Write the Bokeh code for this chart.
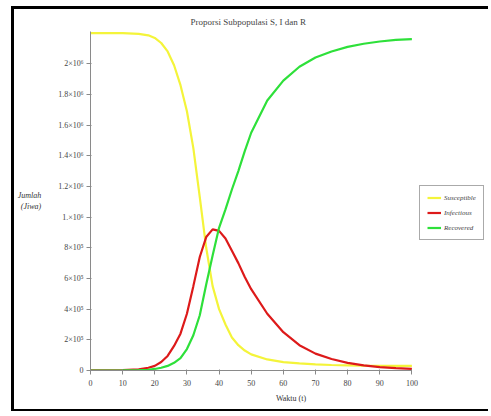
from bokeh.plotting import figure
from bokeh.models import FixedTicker, Legend, LegendItem, ColumnDataSource
from bokeh.embed import file_html
from bokeh.resources import INLINE

t = [0, 5, 10, 15, 18, 20, 22, 24, 26, 28, 30, 32, 34, 36, 38, 40, 42, 44, 46, 48, 50,
     55, 60, 65, 70, 75, 80, 85, 90, 95, 100]
susceptible = [2200000, 2200000, 2199000, 2195000, 2185000, 2168000, 2135000, 2080000, 1990000,
               1860000, 1690000, 1450000, 1130000, 800000, 550000, 400000, 300000, 215000, 165000,
               130000, 105000, 72000, 55000, 46000, 40000, 36000, 34000, 32000, 31000, 30000, 30000]
infectious = [300, 800, 2000, 8000, 18000, 30000, 55000, 95000, 160000, 240000, 370000, 550000,
              740000, 870000, 920000, 910000, 860000, 780000, 700000, 610000, 530000, 370000,
              250000, 165000, 110000, 75000, 50000, 33000, 22000, 15000, 10000]
recovered = [0, 100, 500, 2000, 5000, 10000, 18000, 30000, 50000, 80000, 140000, 230000, 360000,
             560000, 750000, 930000, 1050000, 1180000, 1300000, 1430000, 1550000, 1760000,
             1890000, 1980000, 2040000, 2080000, 2110000, 2130000, 2145000, 2155000, 2160000]

x_ticks = [0, 10, 20, 30, 40, 50, 60, 70, 80, 90, 100]
y_ticks = [0, 200000, 400000, 600000, 800000, 1000000, 1200000, 1400000, 1600000, 1800000, 2000000]
y_tick_labels = ["0", "2×10⁵", "4×10⁵", "6×10⁵", "8×10⁵", "1.×10⁶", "1.2×10⁶", "1.4×10⁶",
                 "1.6×10⁶", "1.8×10⁶", "2×10⁶"]

series_names = ["Susceptible", "Infectious", "Recovered"]
colors = ["#f4f43a", "#dd1a1a", "#2ee03a"]

src = ColumnDataSource(dict(t=t, s=susceptible, i=infectious, r=recovered))

p = figure(width=477, height=405, output_backend="svg", toolbar_location=None,
           x_range=(0, 124.77), y_range=(0, 2210000),
           min_border_left=74, min_border_right=0, min_border_top=22, min_border_bottom=44,
           title="Proporsi Subpopulasi S, I dan R")
p.styles = {"border-left": "3px solid black", "border-top": "3px solid black",
            "border-bottom": "2px solid black", "margin-left": "11px", "margin-top": "6px"}
p.title.align = "left"
p.title.offset = 100
p.title.text_font = "Liberation Serif"
p.title.text_font_size = "9px"
p.title.text_font_style = "normal"
p.outline_line_color = None
p.xgrid.visible = False
p.ygrid.visible = False
p.background_fill_color = "white"
p.border_fill_color = "white"

for ax in (p.xaxis[0], p.yaxis[0]):
    ax.axis_line_color = "#8a8a8a"
    ax.major_tick_line_color = "#8a8a8a"
    ax.minor_tick_line_color = None
    ax.major_label_text_font = "Liberation Serif"
    ax.major_label_text_font_size = "8px"
    ax.major_label_text_color = "#444444"
    ax.axis_label_text_font = "Liberation Serif"
    ax.axis_label_text_font_size = "8px"
    ax.axis_label_text_font_style = "normal"
    ax.axis_label_text_color = "#333333"
    ax.major_tick_out = 4
    ax.major_tick_in = 1

p.xaxis.ticker = FixedTicker(ticks=x_ticks)
p.xaxis.bounds = (0, 100)
p.xaxis.axis_label = "Waktu (t)"
p.xaxis.major_label_standoff = 5
p.xaxis.axis_label_standoff = 5
p.yaxis.ticker = FixedTicker(ticks=y_ticks)
p.yaxis.major_label_overrides = {v: lab for v, lab in zip(y_ticks, y_tick_labels)}
p.yaxis.axis_label = "Jumlah\n(Jiwa)"
p.yaxis.axis_label_orientation = "horizontal"
p.yaxis.axis_label_text_font_style = "italic"
p.yaxis.axis_label_standoff = 14
p.yaxis.major_label_standoff = 3

r1 = p.line("t", "s", source=src, color=colors[0], line_width=2.2)
r2 = p.line("t", "i", source=src, color=colors[1], line_width=2.2)
r3 = p.line("t", "r", source=src, color=colors[2], line_width=2.2)

legend = Legend(items=[LegendItem(label=series_names[0], renderers=[r1]),
                       LegendItem(label=series_names[1], renderers=[r2]),
                       LegendItem(label=series_names[2], renderers=[r3])],
                location=(329, 130))
legend.label_text_font = "Liberation Serif"
legend.label_text_font_size = "7px"
legend.label_text_font_style = "italic"
legend.glyph_width = 14
legend.glyph_height = 9
legend.label_height = 9
legend.spacing = 6
legend.padding = 7
legend.margin = 0
legend.label_standoff = 3
legend.border_line_color = "#555555"
legend.border_line_width = 1
p.add_layout(legend)

open("out.html", "w").write(file_html(p, INLINE))
